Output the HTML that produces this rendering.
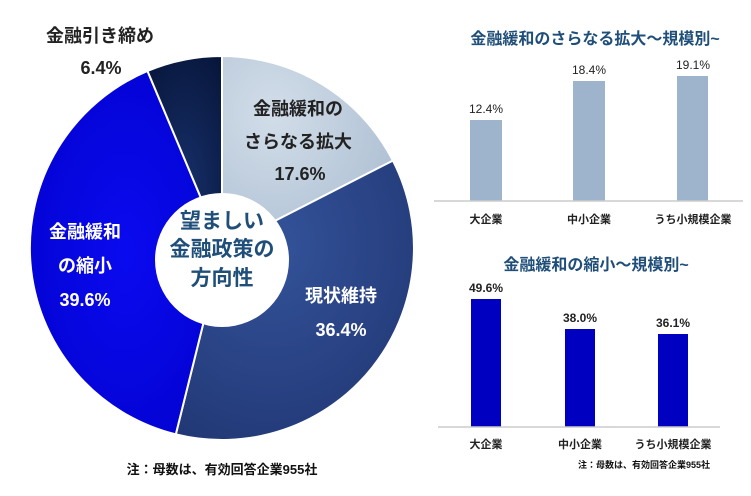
<!DOCTYPE html>
<html><head><meta charset="utf-8"><style>
body{margin:0;background:#fff;}
svg text{font-family:"Liberation Sans","Noto Sans CJK JP",sans-serif;font-weight:bold;}
</style></head><body>
<svg width="751" height="491" viewBox="0 0 751 491" xmlns="http://www.w3.org/2000/svg">
<defs>
<radialGradient id="g1" cx="0.3" cy="0.3" r="0.9"><stop offset="0" stop-color="#d2dde9"/><stop offset="1" stop-color="#a9bcd0"/></radialGradient>
<radialGradient id="g2" cx="0.4" cy="0.3" r="0.9"><stop offset="0" stop-color="#34539a"/><stop offset="1" stop-color="#1f3470"/></radialGradient>
<radialGradient id="g3" cx="0.5" cy="0.5" r="0.8"><stop offset="0" stop-color="#0a0af0"/><stop offset="1" stop-color="#0000c8"/></radialGradient>
<radialGradient id="g4" cx="0.5" cy="0.7" r="0.9"><stop offset="0" stop-color="#17306a"/><stop offset="1" stop-color="#061336"/></radialGradient>
</defs>
<g stroke="#fff" stroke-width="2">
<path d="M222,248 L222,56 A192,192 0 0 1 392.9,160.6 Z" fill="url(#g1)"/>
<path d="M222,248 L392.9,160.6 A192,192 0 0 1 175.8,434.4 Z" fill="url(#g2)"/>
<path d="M222,248 L175.8,434.4 A192,192 0 0 1 147.5,71.0 Z" fill="url(#g3)"/>
<path d="M222,248 L147.5,71.0 A192,192 0 0 1 222,56 Z" fill="url(#g4)"/>
</g>
<circle cx="222" cy="260" r="67" fill="#fff"/>
<g font-size="21" fill="#1f4e79" text-anchor="middle">
<text x="222" y="228">望ましい</text>
<text x="222" y="256">金融政策の</text>
<text x="222" y="285">方向性</text>
</g>
<g font-size="18" fill="#222" text-anchor="middle">
<text x="100" y="42">金融引き締め</text>
<text x="101" y="74">6.4%</text>
<text x="298" y="115">金融緩和の</text>
<text x="298" y="148">さらなる拡大</text>
<text x="300" y="180">17.6%</text>
</g>
<g font-size="18" fill="#fff" text-anchor="middle">
<text x="85" y="238">金融緩和</text>
<text x="85" y="272">の縮小</text>
<text x="85" y="306">39.6%</text>
<text x="341" y="302">現状維持</text>
<text x="341" y="336">36.4%</text>
</g>
<text x="222" y="474" font-size="13" fill="#111" text-anchor="middle">注：母数は、有効回答企業955社</text>

<text x="595" y="44" font-size="16" fill="#1f4e79" text-anchor="middle">金融緩和のさらなる拡大～規模別~</text>
<g fill="#9db4cc">
<rect x="470" y="120" width="32" height="81"/>
<rect x="573" y="81" width="32" height="120"/>
<rect x="677" y="76" width="31" height="125"/>
</g>
<line x1="434" y1="201" x2="743" y2="201" stroke="#ccc" stroke-width="1.5"/>
<g font-size="12" fill="#222" text-anchor="middle">
<text x="486" y="113" style="font-weight:normal">12.4%</text>
<text x="589" y="74" style="font-weight:normal">18.4%</text>
<text x="693" y="69" style="font-weight:normal">19.1%</text>
</g>
<g font-size="11" fill="#222" text-anchor="middle">
<text x="486" y="223">大企業</text>
<text x="589" y="223">中小企業</text>
<text x="693" y="223">うち小規模企業</text>
</g>

<text x="596" y="270" font-size="16" fill="#1f4e79" text-anchor="middle">金融緩和の縮小～規模別~</text>
<g fill="#0000c0">
<rect x="471" y="299" width="30" height="128"/>
<rect x="565" y="329" width="30" height="98"/>
<rect x="658" y="334" width="30" height="93"/>
</g>
<line x1="438" y1="427" x2="720" y2="427" stroke="#ccc" stroke-width="1.5"/>
<g font-size="12" fill="#222" text-anchor="middle">
<text x="486" y="292">49.6%</text>
<text x="580" y="322">38.0%</text>
<text x="673" y="327">36.1%</text>
</g>
<g font-size="11" fill="#222" text-anchor="middle">
<text x="486" y="448">大企業</text>
<text x="580" y="448">中小企業</text>
<text x="673" y="448">うち小規模企業</text>
</g>
<text x="644" y="468" font-size="9" fill="#111" text-anchor="middle">注：母数は、有効回答企業955社</text>
</svg>
</body></html>
